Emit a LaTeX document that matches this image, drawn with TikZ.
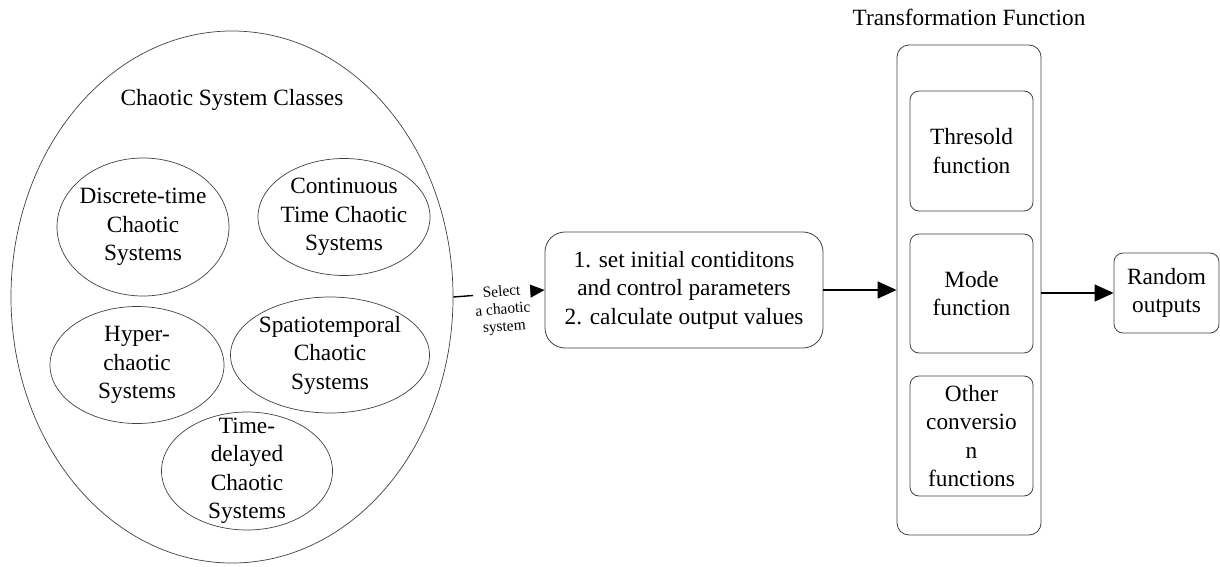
\documentclass[tikz,border=0pt]{standalone}
\usepackage{fontspec}
\setmainfont{Liberation Serif}
\newfontfamily\tnr{Liberation Serif}
\usetikzlibrary{shapes.geometric,arrows.meta}
\begin{document}
\begin{tikzpicture}[x=1pt,y=-1pt,
  txt/.style={font=\tnr\fontsize{23.3}{28.5}\selectfont, align=center, inner sep=0pt},
  ell/.style={ellipse, draw=black!75, line width=0.7pt, inner sep=0pt},
  rbox/.style={txt, rectangle, rounded corners=#1, draw=black!75, line width=0.8pt},
  rbox/.default=9pt,
  arr/.style={line width=1.4pt, -{Triangle[length=19pt,width=17pt]}},
  lab/.style={font=\tnr\fontsize{15.4}{17.5}\selectfont, align=center, fill=white, inner sep=1pt}]
\useasboundingbox (0,0) rectangle (1220,567);
% big ellipse
\node[ell, minimum width=442pt, minimum height=532pt] (big) at (232,297) {};
\node[txt] (title) at (232,100) {Chaotic System Classes};
\node[ell, minimum width=172pt, minimum height=138pt] (disc) at (143,227) {};
\node[txt] (disct) at (disc.center) {Discrete-time\\Chaotic\\Systems};
\node[ell, minimum width=172pt, minimum height=117pt] (cont) at (344,217) {};
\node[txt] (contt) at (cont.center) {Continuous\\Time Chaotic\\Systems};
\node[ell, minimum width=174pt, minimum height=117pt] (hyper) at (137,365) {};
\node[txt] (hypert) at (hyper.center) {Hyper-\\chaotic\\Systems};
\node[ell, minimum width=199pt, minimum height=116pt] (spat) at (330,355) {};
\node[txt] (spatt) at (spat.center) {Spatiotemporal\\Chaotic\\Systems};
\node[ell, minimum width=171pt, minimum height=118pt] (delay) at (247,471) {};
\node[txt] (delayt) at (delay.center) {Time-\\delayed\\Chaotic\\Systems};
% calculation box
\node[rbox=20pt, minimum width=278pt, minimum height=116pt] (calc) at (684,290) {1. set initial contiditons\\and control parameters\\2. calculate output values};
% transformation function
\node[txt] (tftitle) at (969,17) {Transformation Function};
\node[rbox=12pt, minimum width=144pt, minimum height=490pt] (tf) at (969,290) {};
\node[rbox, minimum width=123pt, minimum height=120pt] (thr) at (971.5,151) {Thresold\\function};
\node[rbox, minimum width=123pt, minimum height=119pt] (mode) at (971.5,293.5) {Mode\\function};
\node[rbox, minimum width=123pt, minimum height=120pt] (other) at (971.5,436) {Other\\conversio\\n\\functions};
% output
\node[rbox, minimum width=105pt, minimum height=80pt] (rand) at (1166.5,293) {Random\\outputs};
% connectors
\draw[arr] (big.east) -- node[lab, pos=0.53, sloped, yshift=-17pt] (sel) {Select\\a chaotic\\system} (calc.west);
\draw[arr] (calc.east) -- (tf.west |- calc.east);
\draw[arr] (tf.east |- rand.west) -- (rand.west);
\end{tikzpicture}
\end{document}
